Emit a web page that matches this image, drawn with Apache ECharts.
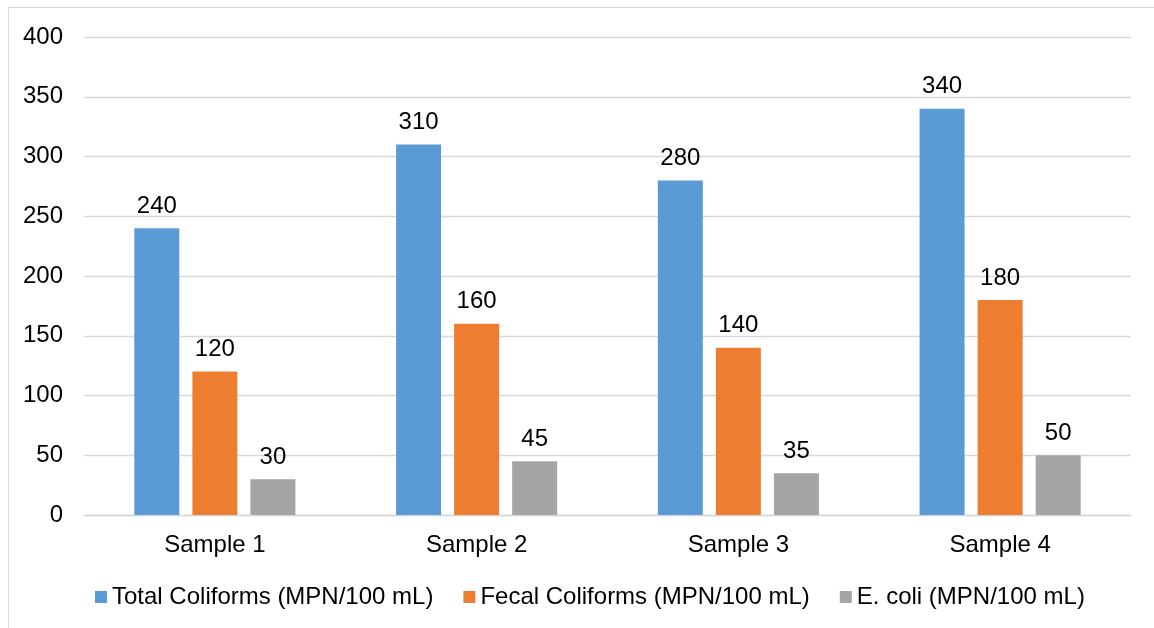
<!DOCTYPE html>
<html><head><meta charset="utf-8">
<script src="https://cdn.jsdelivr.net/npm/echarts@6/dist/echarts.min.js"></script>
<style>html,body{margin:0;padding:0;background:#fff;}#c{width:1154px;height:628px;}</style>
</head><body><div id="c"></div>
<script>
const categories = ['Sample 1', 'Sample 2', 'Sample 3', 'Sample 4'];
const totalColiforms = [240, 310, 280, 340];
const fecalColiforms = [120, 160, 140, 180];
const eColi = [30, 45, 35, 50];
const seriesNames = ['Total Coliforms (MPN/100 mL)', 'Fecal Coliforms (MPN/100 mL)', 'E. coli (MPN/100 mL)'];
const colors = ['#5B9BD5', '#ED7D31', '#A5A5A5'];
const font = 'Liberation Sans, Arial, sans-serif';
const fs = 24;
const chart = echarts.init(document.getElementById('c'));
function bar(name, data, color) {
  return {
    name, type: 'bar', data, barWidth: 45, barGap: '29%',
    itemStyle: { color },
    label: { show: true, position: 'top', distance: 10, color: '#000', fontFamily: font, fontSize: fs }
  };
}
chart.setOption({
  animation: false,
  color: colors,
  graphic: [{ type: 'rect', shape: { x: 8.5, y: 7.5, width: 1200, height: 700 }, style: { fill: 'none', stroke: '#d9d9d9', lineWidth: 1 }, silent: true }],
  grid: { left: 84, right: 23, top: 37, bottom: 113, containLabel: false },
  legend: {
    bottom: 14, left: 90, itemWidth: 12, itemHeight: 12, itemGap: 30, icon: 'rect',
    textStyle: { fontFamily: font, fontSize: fs, color: '#000' },
    data: seriesNames
  },
  xAxis: {
    type: 'category', data: categories,
    axisLine: { lineStyle: { color: '#d9d9d9', width: 1.3 } },
    axisTick: { show: false },
    axisLabel: { fontFamily: font, fontSize: fs, color: '#000', margin: 18 }
  },
  yAxis: {
    type: 'value', min: 0, max: 400, interval: 50,
    axisLine: { show: false }, axisTick: { show: false },
    splitLine: { lineStyle: { color: '#d9d9d9', width: 1.3 } },
    axisLabel: { fontFamily: font, fontSize: fs, color: '#000', margin: 21 }
  },
  series: [
    bar(seriesNames[0], totalColiforms, colors[0]),
    bar(seriesNames[1], fecalColiforms, colors[1]),
    bar(seriesNames[2], eColi, colors[2])
  ]
});
</script></body></html>
